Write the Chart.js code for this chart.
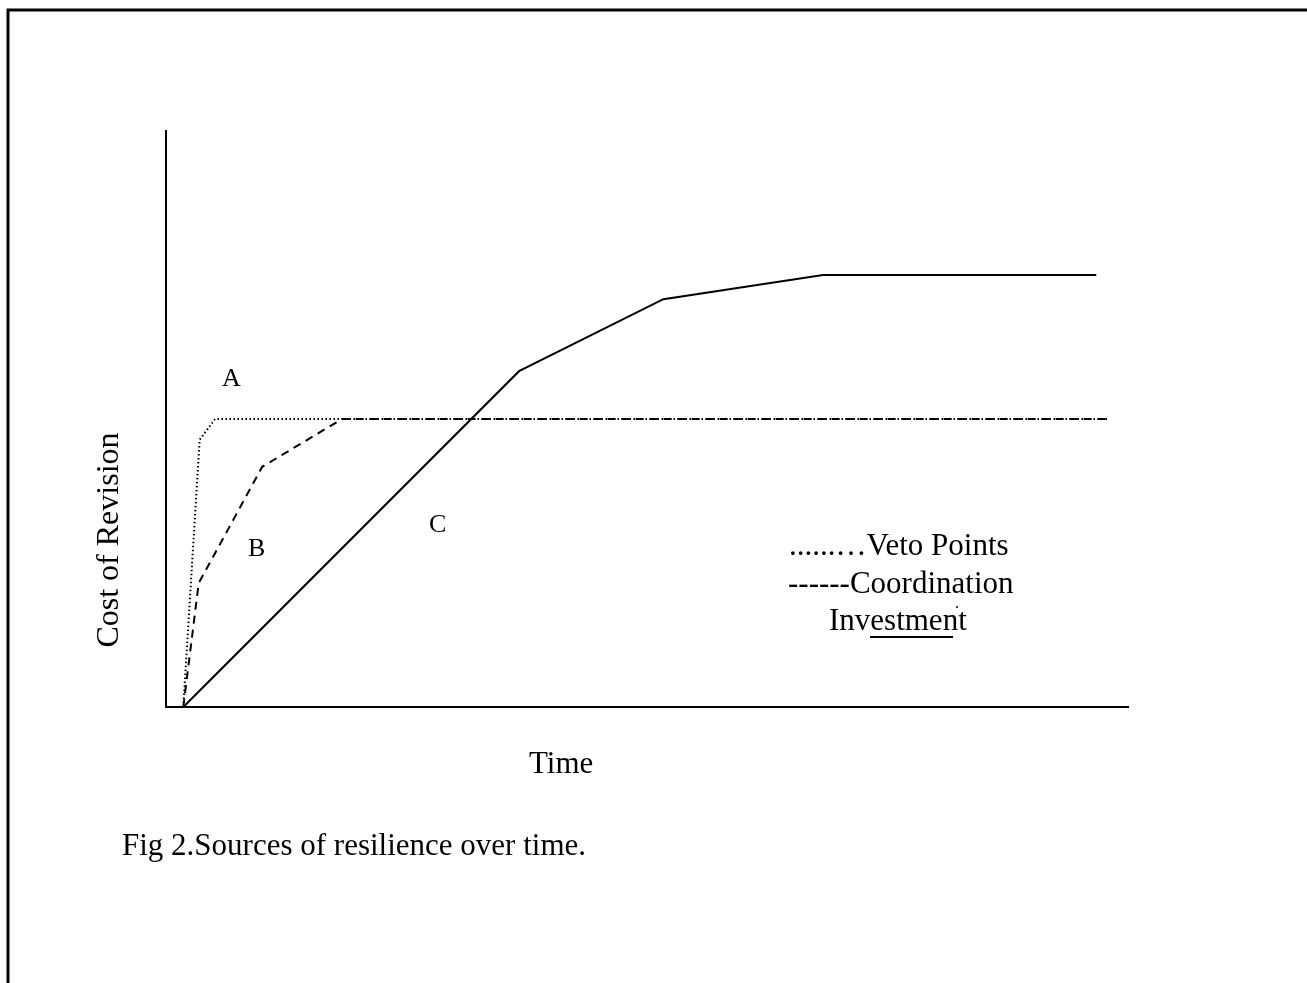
<!DOCTYPE html>
<html>
<head>
<meta charset="utf-8">
<script src="https://cdn.jsdelivr.net/npm/chart.js@4.4.1/dist/chart.umd.min.js"></script>
<style>
  html, body { margin: 0; padding: 0; background: #fff; }
  #wrap { position: relative; width: 1307px; height: 983px; }
  canvas { display: block; }
</style>
</head>
<body>
<div id="wrap"><canvas id="c" width="1307" height="983"></canvas></div>
<script>
// ---- Data (arbitrary units: time 0-100, cost 0-100) ----
const vetoX = [1.8, 3.5, 5.1, 97.9];
const vetoY = [0, 46.4, 50, 50];
const coordX = [1.8, 3.4, 10.0, 18.3, 97.9];
const coordY = [0, 21.5, 41.7, 50, 50];
const investX = [1.8, 36.7, 51.7, 68.3, 96.7];
const investY = [0, 58.3, 70.8, 75, 75];
const seriesNames = ['Veto Points', 'Coordination', 'Investment'];
const regionLabels = ['A', 'B', 'C'];
const axisTitleX = 'Time';
const axisTitleY = 'Cost of Revision';
const caption = 'Fig 2.Sources of resilience over time.';

const toPts = (xs, ys) => xs.map((x, i) => ({ x: x, y: ys[i] }));

const FONT = 'Liberation Serif, "Times New Roman", serif';

const decor = {
  id: 'decor',
  beforeDraw(chart) {
    const ctx = chart.ctx;
    ctx.save();
    ctx.fillStyle = '#fff';
    ctx.fillRect(0, 0, chart.width, chart.height);
    // page frame (left + top)
    ctx.strokeStyle = '#000';
    ctx.lineWidth = 3;
    ctx.beginPath();
    ctx.moveTo(8, 983);
    ctx.lineTo(8, 10);
    ctx.lineTo(1307, 10);
    ctx.stroke();
    ctx.restore();
  },
  afterDraw(chart) {
    const ctx = chart.ctx;
    ctx.save();
    ctx.fillStyle = '#000';
    ctx.textBaseline = 'alphabetic';
    ctx.textAlign = 'left';
    ctx.font = '26px ' + FONT;
    ctx.fillText(regionLabels[0], 222, 386);
    ctx.fillText(regionLabels[1], 248, 556);
    ctx.fillText(regionLabels[2], 429, 532);

    ctx.font = '31px ' + FONT;
    ctx.fillText('......\u2026' + seriesNames[0], 789, 555);
    ctx.fillText('------' + seriesNames[1], 788, 593);
    ctx.fillText(seriesNames[2], 829, 630);
    // underline sample for the solid line
    ctx.strokeStyle = '#000';
    ctx.lineWidth = 2;
    ctx.beginPath();
    ctx.moveTo(870, 637);
    ctx.lineTo(953, 637);
    ctx.stroke();
    ctx.beginPath();
    ctx.arc(957, 607, 1, 0, Math.PI * 2);
    ctx.fill();

    ctx.textAlign = 'left';
    ctx.fillText(axisTitleX, 529, 773);

    ctx.save();
    ctx.translate(110, 540);
    ctx.rotate(-Math.PI / 2);
    ctx.textAlign = 'center';
    ctx.textBaseline = 'middle';
    ctx.font = '32px ' + FONT;
    ctx.fillText(axisTitleY, 0, 0);
    ctx.restore();

    ctx.textAlign = 'left';
    ctx.fillText(caption, 122, 855);
    ctx.restore();
  }
};

new Chart(document.getElementById('c'), {
  type: 'line',
  data: {
    datasets: [
      {
        label: seriesNames[2],
        data: toPts(investX, investY),
        borderColor: '#000',
        borderWidth: 2,
        pointRadius: 0,
        tension: 0,
        fill: false
      },
      {
        label: seriesNames[1],
        data: toPts(coordX, coordY),
        borderColor: '#000',
        borderWidth: 2,
        borderDash: [8, 6],
        pointRadius: 0,
        tension: 0,
        fill: false
      },
      {
        label: seriesNames[0],
        data: toPts(vetoX, vetoY),
        borderColor: '#000',
        borderWidth: 2,
        borderDash: [1.5, 2.5],
        pointRadius: 0,
        tension: 0,
        fill: false
      }
    ]
  },
  options: {
    responsive: false,
    animation: false,
    devicePixelRatio: 1,
    clip: false,
    layout: { padding: { left: 166, top: 131, right: 179, bottom: 276 } },
    plugins: { legend: { display: false }, tooltip: { enabled: false }, title: { display: false } },
    scales: {
      x: {
        type: 'linear', min: 0, max: 100,
        ticks: { display: false },
        grid: { display: false, drawTicks: false },
        border: { display: true, color: '#000', width: 2 }
      },
      y: {
        type: 'linear', min: 0, max: 100,
        ticks: { display: false },
        grid: { display: false, drawTicks: false },
        border: { display: true, color: '#000', width: 2 }
      }
    }
  },
  plugins: [decor]
});
</script>
</body>
</html>
